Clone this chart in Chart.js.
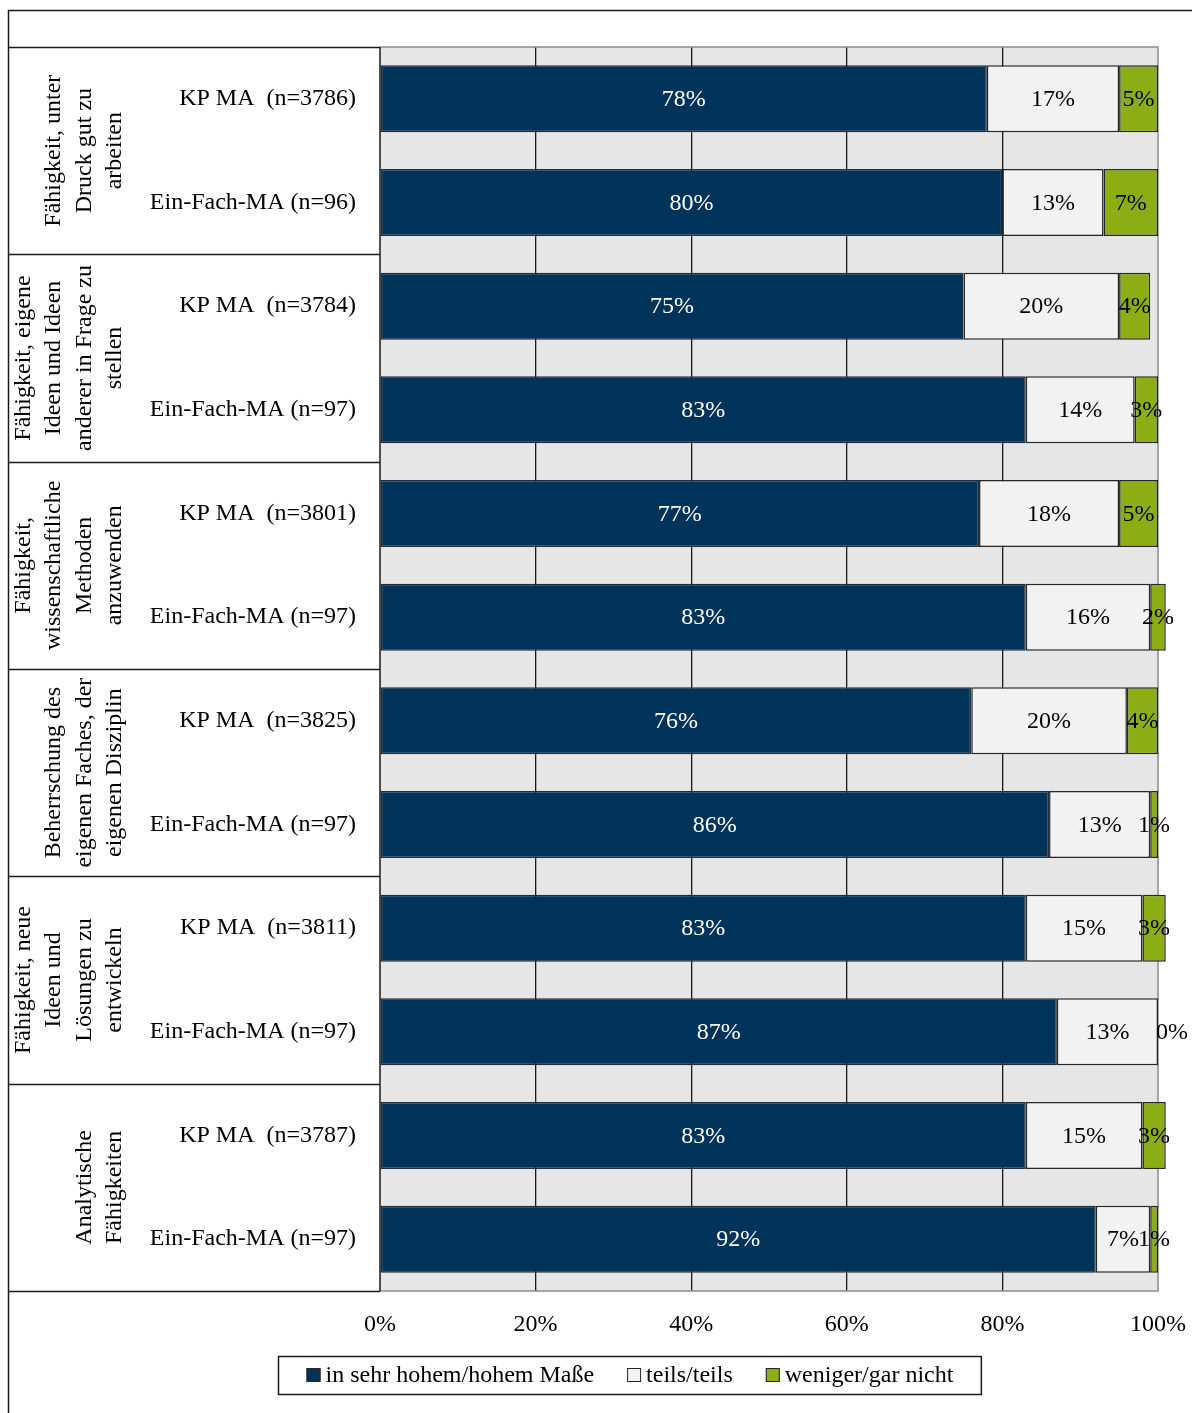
<!DOCTYPE html>
<html lang="de">
<head>
<meta charset="utf-8">
<script src="https://cdn.jsdelivr.net/npm/chart.js@4"></script>
<style>
  html, body { margin: 0; padding: 0; background: #fff; }
  #wrap { position: relative; width: 1192px; height: 1413px; }
</style>
</head>
<body>
<div id="wrap"><canvas id="kompetenzChart"></canvas></div>
<script>
// Zeilen (je Gruppe: KP MA, Ein-Fach-MA)
const rowLabels = [
  "KP MA  (n=3786)", "Ein-Fach-MA (n=96)",
  "KP MA  (n=3784)", "Ein-Fach-MA (n=97)",
  "KP MA  (n=3801)", "Ein-Fach-MA (n=97)",
  "KP MA  (n=3825)", "Ein-Fach-MA (n=97)",
  "KP MA  (n=3811)", "Ein-Fach-MA (n=97)",
  "KP MA  (n=3787)", "Ein-Fach-MA (n=97)"
];
const groupLabels = [
  ["Fähigkeit, unter", "Druck gut zu", "arbeiten"],
  ["Fähigkeit, eigene", "Ideen und Ideen", "anderer in Frage zu", "stellen"],
  ["Fähigkeit,", "wissenschaftliche", "Methoden", "anzuwenden"],
  ["Beherrschung des", "eigenen Faches, der", "eigenen Disziplin"],
  ["Fähigkeit, neue", "Ideen und", "Lösungen zu", "entwickeln"],
  ["Analytische", "Fähigkeiten"]
];
const hoch    = [78, 80, 75, 83, 77, 83, 76, 86, 83, 87, 83, 92];
const teils   = [17, 13, 20, 14, 18, 16, 20, 13, 15, 13, 15, 7];
const weniger = [5, 7, 4, 3, 5, 2, 4, 1, 3, 0, 3, 1];
const xTicks  = [0, 20, 40, 60, 80, 100];

const serif = "'Liberation Serif', 'Times New Roman', serif";
Chart.defaults.font.family = serif;
Chart.defaults.color = "#000";

// Hintergrund und Rahmen der Zeichenfläche
const plotBg = {
  id: "plotBg",
  beforeDraw(chart) {
    const { ctx, chartArea: a } = chart;
    ctx.save();
    ctx.fillStyle = "#e6e6e6";
    ctx.fillRect(a.left, a.top, a.right - a.left, a.bottom - a.top);
    ctx.restore();
  },
  beforeDatasetsDraw(chart) {
    const { ctx, chartArea: a } = chart;
    ctx.save();
    ctx.strokeStyle = "#8c8c8c";
    ctx.lineWidth = 1.5;
    ctx.beginPath();
    ctx.moveTo(a.left, a.top);
    ctx.lineTo(a.right, a.top);
    ctx.lineTo(a.right, a.bottom);
    ctx.lineTo(a.left, a.bottom);
    ctx.stroke();
    ctx.restore();
  }
};

// Prozentwerte in den Balken
const barValues = {
  id: "barValues",
  afterDatasetsDraw(chart) {
    const ctx = chart.ctx;
    ctx.save();
    ctx.font = "24px " + serif;
    ctx.textAlign = "center";
    ctx.textBaseline = "middle";
    chart.data.datasets.forEach((ds, i) => {
      const meta = chart.getDatasetMeta(i);
      ctx.fillStyle = i === 0 ? "#fff" : "#000";
      meta.data.forEach((bar, j) => {
        const c = bar.getCenterPoint();
        // leere Segmente: Beschriftung rechts neben dem Balkenende
        const x = ds.data[j] === 0 ? c.x + 14 : c.x;
        ctx.fillText(ds.data[j] + "%", x, c.y + 1);
      });
    });
    ctx.restore();
  }
};

// Tabelle links mit gedrehten Gruppentiteln, äußerer Rahmen
const sideTable = {
  id: "sideTable",
  afterDraw(chart) {
    const { ctx, chartArea: a } = chart;
    const y = chart.scales.y;
    const band = (y.bottom - y.top) / rowLabels.length;
    const left = 8;
    ctx.save();
    ctx.strokeStyle = "#1a1a1a";
    ctx.lineWidth = 1.5;
    ctx.beginPath();
    ctx.moveTo(left, 10.5); ctx.lineTo(chart.width, 10.5);
    ctx.moveTo(left + 0.5, 10); ctx.lineTo(left + 0.5, chart.height);
    ctx.moveTo(a.left, a.top); ctx.lineTo(a.left, a.bottom);
    for (let g = 0; g <= groupLabels.length; g++) {
      const gy = Math.round(y.top + g * 2 * band) + 0.5;
      ctx.moveTo(left, gy); ctx.lineTo(a.left, gy);
    }
    ctx.stroke();

    ctx.fillStyle = "#000";
    ctx.font = "24px " + serif;
    ctx.textAlign = "center";
    ctx.textBaseline = "middle";
    groupLabels.forEach((lines, g) => {
      const cy = y.top + (g * 2 + 1) * band;
      ctx.save();
      ctx.translate(115, cy);
      ctx.rotate(-Math.PI / 2);
      lines.forEach((t, k) => {
        ctx.fillText(t, 0, -(lines.length - 1 - k) * 30.5);
      });
      ctx.restore();
    });
    ctx.restore();
  }
};

// Legende mit Rahmen
const boxLegend = {
  id: "boxLegend",
  afterDraw(chart) {
    const ctx = chart.ctx;
    ctx.save();
    ctx.font = "24px " + serif;
    const items = chart.data.datasets.map(ds => ({
      label: ds.label, color: ds.backgroundColor, w: ctx.measureText(ds.label).width
    }));
    const sq = 14, gap = 5, sep = 33, pad = 28;
    const inner = items.reduce((s, it) => s + sq + gap + it.w, 0) + sep * (items.length - 1);
    const boxW = inner + 2 * pad, boxH = 38;
    const cx = 629.5, top = 1356;
    const bx = Math.round(cx - boxW / 2) + 0.5;
    ctx.strokeStyle = "#1a1a1a";
    ctx.lineWidth = 1.5;
    ctx.strokeRect(bx, top + 0.5, boxW, boxH);
    let x = bx + pad;
    const my = top + boxH / 2;
    ctx.textBaseline = "middle";
    ctx.textAlign = "left";
    items.forEach(it => {
      ctx.fillStyle = it.color;
      ctx.fillRect(x, my - 7, sq, sq);
      ctx.lineWidth = 1;
      ctx.strokeStyle = "#262626";
      ctx.strokeRect(x + 0.5, my - 6.5, sq - 1, sq - 1);
      ctx.fillStyle = "#000";
      ctx.fillText(it.label, x + sq + gap, my + 1);
      x += sq + gap + it.w + sep;
    });
    ctx.restore();
  }
};

new Chart(document.getElementById("kompetenzChart").getContext("2d"), {
  type: "bar",
  data: {
    labels: rowLabels,
    datasets: [
      { label: "in sehr hohem/hohem Maße", data: hoch, backgroundColor: "#003359", borderColor: "#1f2d3a" },
      { label: "teils/teils", data: teils, backgroundColor: "#f2f2f2", borderColor: "#262626" },
      { label: "weniger/gar nicht", data: weniger, backgroundColor: "#8dad15", borderColor: "#262626" }
    ]
  },
  options: {
    indexAxis: "y",
    responsive: true,
    maintainAspectRatio: false,
    animation: false,
    layout: { padding: { left: 8, right: 34, top: 47, bottom: 62 } },
    datasets: {
      bar: { barPercentage: 0.646, categoryPercentage: 1, borderWidth: 1.5, clip: false, borderSkipped: false }
    },
    plugins: {
      legend: { display: false },
      tooltip: { enabled: false }
    },
    scales: {
      x: {
        stacked: true,
        min: 0,
        max: 100,
        afterBuildTicks: s => { s.ticks = xTicks.map(v => ({ value: v })); },
        afterFit: s => { s.height = 60; s.paddingLeft = 0; s.paddingRight = 0; },
        border: { display: false },
        grid: {
          drawTicks: false,
          lineWidth: 1.3,
          color: c => (c.tick && (c.tick.value === 0 || c.tick.value === 100)) ? "rgba(0,0,0,0)" : "#1a1a1a"
        },
        ticks: { padding: 19, font: { size: 24 }, callback: v => v + "%" }
      },
      y: {
        stacked: true,
        afterFit: s => { s.width = 372; },
        border: { display: false },
        grid: { display: false, drawTicks: false },
        ticks: { padding: 24, font: { size: 24 } }
      }
    }
  },
  plugins: [plotBg, barValues, sideTable, boxLegend]
});
</script>
</body>
</html>
